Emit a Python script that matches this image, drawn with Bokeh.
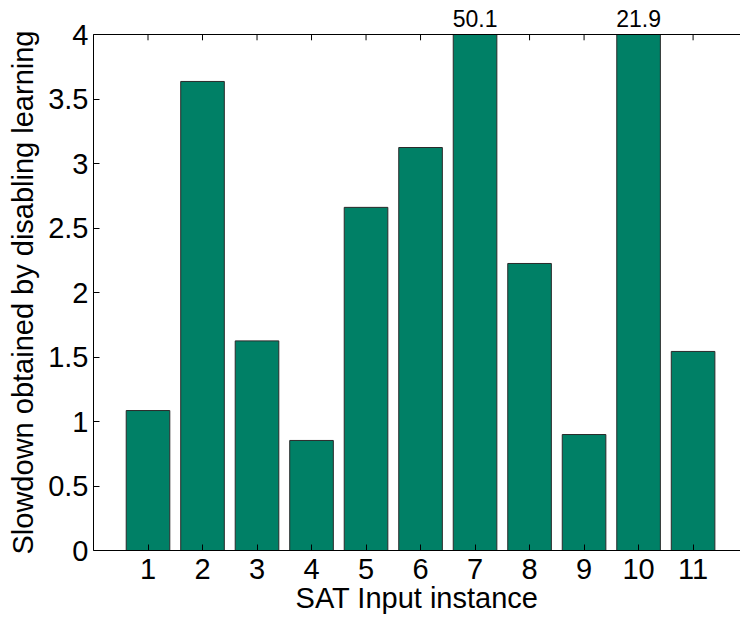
import numpy as np
from bokeh.plotting import figure
from bokeh.models import ColumnDataSource, Range1d, LinearAxis, FixedTicker
from bokeh.embed import file_html
from bokeh.resources import INLINE

instances = [1, 2, 3, 4, 5, 6, 7, 8, 9, 10, 11]
slowdown = [1.085, 3.636, 1.625, 0.853, 2.66, 3.124, 50.1, 2.225, 0.899, 21.9, 1.543]
y_ticks = [0, 0.5, 1, 1.5, 2, 2.5, 3, 3.5, 4]
y_tick_labels = ["0", "0.5", "1", "1.5", "2", "2.5", "3", "3.5", "4"]
ymax = 4

FONT = "Liberation Sans"
BAR = "#008066"
TICK_LEN = 0.045  # in y data units (~6 px)

shown = [min(v, ymax) for v in slowdown]
src = ColumnDataSource(dict(x=instances, top=shown, val=slowdown))
over_x = [x for x, v in zip(instances, slowdown) if v > ymax]
over_txt = {x: "%.1f" % v for x, v in zip(instances, slowdown) if v > ymax}

p = figure(width=740, height=619, output_backend="svg", toolbar_location=None,
           x_range=Range1d(0, 11.87), y_range=Range1d(0, ymax),
           min_border_left=93, min_border_right=0, min_border_top=34, min_border_bottom=69)
p.outline_line_color = None
p.xgrid.visible = False
p.ygrid.visible = False

# inward ticks along the top edge
p.segment(x0=instances, x1=instances, y0=[ymax] * len(instances),
          y1=[ymax - TICK_LEN] * len(instances), line_color="black", line_width=1)

p.vbar(x="x", top="top", bottom=0, width=0.8, source=src,
       fill_color=BAR, line_color="#2a2a2a", line_width=1)

for ax in (p.xaxis[0], p.yaxis[0]):
    ax.major_tick_in = 6
    ax.major_tick_out = 0
    ax.minor_tick_line_color = None
    ax.major_label_text_font = FONT
    ax.major_label_text_font_size = "29px"
    ax.major_label_text_color = "black"
    ax.axis_label_text_font = FONT
    ax.axis_label_text_font_size = "29px"
    ax.axis_label_text_font_style = "normal"
    ax.axis_label_text_color = "black"
    ax.axis_line_color = "black"
    ax.major_tick_line_color = "black"

p.xaxis.ticker = FixedTicker(ticks=instances)
p.xaxis.major_label_standoff = 8
p.xaxis.axis_label = "SAT Input instance"
p.xaxis.axis_label_standoff = 0

p.yaxis.ticker = FixedTicker(ticks=y_ticks)
p.yaxis.major_label_overrides = {t: s for t, s in zip(y_ticks, y_tick_labels)}
p.yaxis.major_label_standoff = 5
p.yaxis.axis_label = "Slowdown obtained by disabling learning"
p.yaxis.axis_label_standoff = 6

# top edge, with the values of the clipped bars written above it
top_ax = LinearAxis(ticker=FixedTicker(ticks=over_x), major_label_overrides=over_txt,
                    major_tick_in=0, major_tick_out=0, minor_tick_line_color=None,
                    major_label_text_font=FONT, major_label_text_font_size="23px",
                    major_label_text_color="black", major_label_standoff=8,
                    axis_line_color="black")
p.add_layout(top_ax, "above")

open("out.html", "w").write(file_html(p, INLINE))
